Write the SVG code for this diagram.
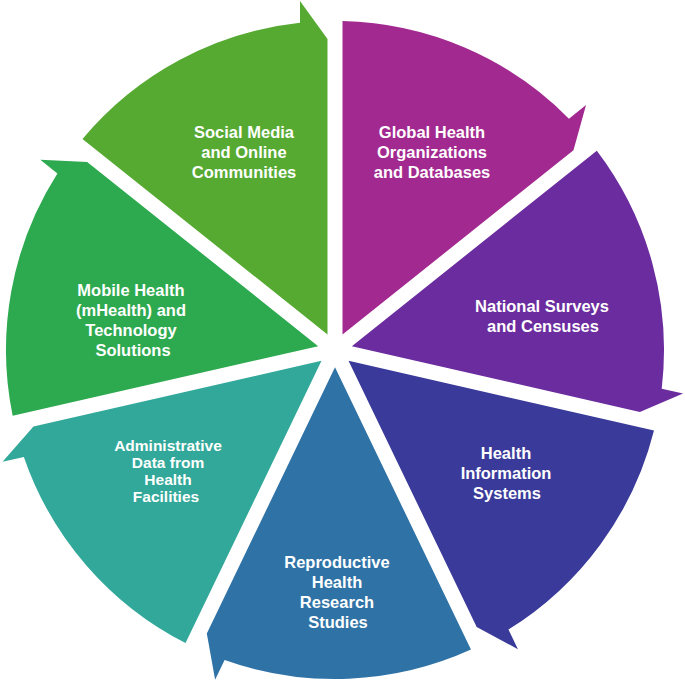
<svg xmlns="http://www.w3.org/2000/svg" width="685" height="683" viewBox="0 0 685 683">
<style>
.lbl{font-family:"Liberation Sans",Arial,sans-serif;font-weight:bold;font-size:16.5px;fill:#ffffff;text-anchor:middle}
.tight{font-size:15.5px}
</style>
<rect width="685" height="683" fill="#ffffff"/>
<g id="global-health">
<path fill="#A2298F" d="M342.50,21.09 A329,329 0 0 1 568.94,118.67 L586.04,105.04 L573.47,150.23 L342.50,334.43 Z"/>
<text class="lbl"><tspan x="432" y="138">Global Health</tspan><tspan x="432" y="158">Organizations</tspan><tspan x="432" y="178">and Databases</tspan></text>
</g>
<g id="national-surveys">
<path fill="#6A2C9E" d="M596.82,150.78 A329,329 0 0 1 661.72,388.67 L683.04,393.53 L639.87,411.89 L351.85,346.15 Z"/>
<text class="lbl"><tspan x="542" y="312">National Surveys</tspan><tspan x="543" y="332">and Censuses</tspan></text>
</g>
<g id="health-information">
<path fill="#3A3A9A" d="M654.00,430.50 A329,329 0 0 1 508.46,629.56 L517.95,649.25 L476.70,626.95 L348.51,360.77 Z"/>
<text class="lbl"><tspan x="506" y="459">Health</tspan><tspan x="506" y="479">Information</tspan><tspan x="507" y="499">Systems</tspan></text>
</g>
<g id="reproductive-health">
<path fill="#2F72A6" d="M470.95,649.60 A329,329 0 0 1 224.60,659.92 L215.11,679.63 L206.82,633.45 L335.00,367.28 Z"/>
<text class="lbl"><tspan x="337" y="568">Reproductive</tspan><tspan x="337" y="588">Health</tspan><tspan x="337" y="608">Research</tspan><tspan x="338" y="628">Studies</tspan></text>
</g>
<g id="administrative-data">
<path fill="#31A899" d="M185.54,643.09 A329,329 0 0 1 23.86,456.91 L2.54,461.77 L33.47,426.51 L321.49,360.77 Z"/>
<text class="lbl tight"><tspan x="168" y="451">Administrative</tspan><tspan x="168" y="468">Data from</tspan><tspan x="168" y="485">Health</tspan><tspan x="166" y="502">Facilities</tspan></text>
</g>
<g id="mobile-health">
<path fill="#2DA94F" d="M12.66,415.87 A329,329 0 0 1 57.40,173.41 L40.32,159.76 L87.17,161.95 L318.15,346.15 Z"/>
<text class="lbl"><tspan x="131" y="296">Mobile Health</tspan><tspan x="131" y="316">(mHealth) and</tspan><tspan x="131" y="336">Technology</tspan><tspan x="133" y="356">Solutions</tspan></text>
</g>
<g id="social-media">
<path fill="#56AA32" d="M82.48,139.11 A329,329 0 0 1 300.00,22.87 L300.00,1.00 L327.50,39.00 L327.50,334.43 Z"/>
<text class="lbl"><tspan x="244" y="138">Social Media</tspan><tspan x="244" y="158">and Online</tspan><tspan x="244" y="178">Communities</tspan></text>
</g>
</svg>
